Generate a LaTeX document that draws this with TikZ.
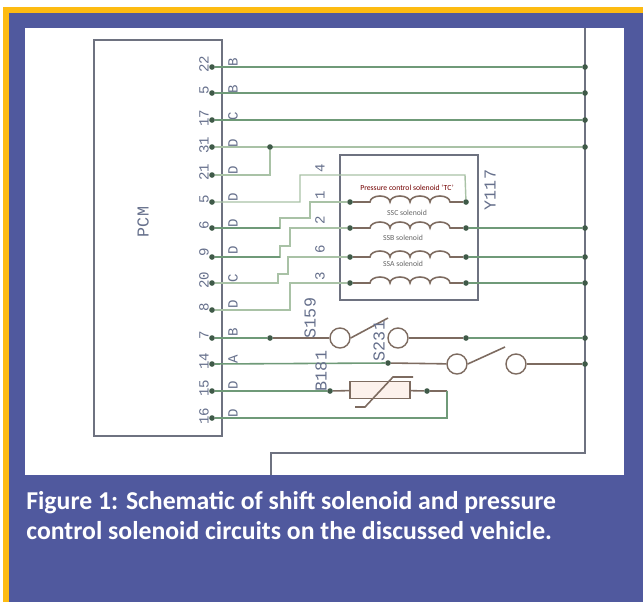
\documentclass[tikz,border=0pt]{standalone}
\usepackage{fontspec}
\setsansfont{Carlito}
\setmonofont{Liberation Mono}
\usepackage{xcolor}
\definecolor{goldbar}{HTML}{FDBB12}
\definecolor{panelblue}{HTML}{50599E}
\definecolor{wiregreen}{HTML}{6F9A78}
\definecolor{wirepale}{HTML}{A9C2A6}
\definecolor{wirebrown}{HTML}{7D6B60}
\definecolor{boxgrey}{HTML}{6E7280}
\definecolor{labelgrey}{HTML}{66708C}
\definecolor{dotgrey}{HTML}{3F5A48}
\definecolor{thermpink}{HTML}{FCF1EC}

\begin{document}
\begin{tikzpicture}[
        x=0.02cm, y=-0.02cm,
        greenwire/.style={wiregreen, line width=0.9pt},
        palewire/.style={wirepale, line width=0.8pt},
        brownwire/.style={wirebrown, line width=0.9pt},
        greybox/.style={draw=boxgrey, line width=0.9pt},
        junction/.style={circle, fill=dotgrey, inner sep=0pt, minimum size=3.2pt},
        contact/.style={circle, draw=wirebrown, fill=white, line width=0.8pt, inner sep=0pt, minimum size=11.4pt},
        pinlabel/.style={rotate=90, text=labelgrey, font=\ttfamily\fontsize{8}{9}\selectfont, inner sep=0pt},
        partlabel/.style={pinlabel, font=\ttfamily\fontsize{9.5}{10}\selectfont},
        coillabel/.style={font=\sffamily\fontsize{4.4}{5}\selectfont, text=black!60, inner sep=0pt},
        caption/.style={font=\sffamily\bfseries\fontsize{14.65}{17.1}\selectfont, text=white, align=left, anchor=north west, inner sep=0pt},
        ]
        % panel
        \useasboundingbox (0,0) rectangle (643,602);
        \fill[white] (0,0) rectangle (643,602);
        \fill[goldbar] (3,7) rectangle (643,602);
        \fill[panelblue] (9,13) rectangle (643,602);
        \fill[white] (25,28) rectangle (624,475);

        % PCM and solenoid pack
        \node (pcm) at (158,238) [greybox, rectangle, minimum width=128*0.02cm, minimum height=396*0.02cm] {};
        \node (pcmname) at (143,222) [partlabel] {PCM};
        \node (pack) at (409,227.5) [greybox, rectangle, minimum width=138*0.02cm, minimum height=145*0.02cm] {};
        \node (packname) at (490,190) [partlabel] {Y117};

        % pin dots
        \node (p22) at (212,67) [junction] {};
        \node (p5a) at (212,93) [junction] {};
        \node (p17) at (212,120) [junction] {};
        \node (p31) at (212,147) [junction] {};
        \node (p21) at (212,175) [junction] {};
        \node (p5b) at (212,202) [junction] {};
        \node (p6) at (212,228) [junction] {};
        \node (p9) at (212,257) [junction] {};
        \node (p20) at (212,283) [junction] {};
        \node (p8) at (212,310) [junction] {};
        \node (p7) at (212,338) [junction] {};
        \node (p14) at (212,364) [junction] {};
        \node (p15) at (212,391) [junction] {};
        \node (p16) at (212,418) [junction] {};

        % pin numbers
        \node (n22) at (204,64) [pinlabel] {22};
        \node (n5a) at (204,90) [pinlabel] {5};
        \node (n17) at (204,118) [pinlabel] {17};
        \node (n31) at (204,145) [pinlabel] {31};
        \node (n21) at (204,172) [pinlabel] {21};
        \node (n5b) at (204,199) [pinlabel] {5};
        \node (n6) at (204,225) [pinlabel] {6};
        \node (n9) at (204,252) [pinlabel] {9};
        \node (n20) at (204,280) [pinlabel] {20};
        \node (n8) at (204,307) [pinlabel] {8};
        \node (n7) at (204,335) [pinlabel] {7};
        \node (n14) at (204,361) [pinlabel] {14};
        \node (n15) at (204,388) [pinlabel] {15};
        \node (n16) at (204,416) [pinlabel] {16};

        % wire letters
        \node (l22) at (233,62) [pinlabel] {B};
        \node (l5a) at (233,89) [pinlabel] {B};
        \node (l17) at (233,116) [pinlabel] {C};
        \node (l31) at (233,143) [pinlabel] {D};
        \node (l21) at (233,170) [pinlabel] {D};
        \node (l5b) at (233,197) [pinlabel] {D};
        \node (l6) at (233,223) [pinlabel] {D};
        \node (l9) at (233,250) [pinlabel] {D};
        \node (l20) at (233,278) [pinlabel] {C};
        \node (l8) at (233,304) [pinlabel] {D};
        \node (l7) at (233,332) [pinlabel] {B};
        \node (l14) at (233,359) [pinlabel] {A};
        \node (l15) at (233,385) [pinlabel] {D};
        \node (l16) at (233,413) [pinlabel] {D};

        % right rail
        \coordinate (railtop) at (585,28);
        \coordinate (railfoot) at (585,453);
        \coordinate (stubfoot) at (271,453);
        \coordinate (stubend) at (271,475);
        \draw[greybox] (railtop) -- (railfoot) -- (stubfoot) -- (stubend);

        \node (r22) at (585,67) [junction] {};
        \node (r5a) at (585,93) [junction] {};
        \node (r17) at (585,120) [junction] {};
        \node (r31) at (585,147) [junction] {};
        \node (r6) at (585,228) [junction] {};
        \node (r9) at (585,257) [junction] {};
        \node (r20) at (585,283) [junction] {};
        \node (r7) at (585,338) [junction] {};
        \node (r14) at (585,364) [junction] {};

        % straight runs
        \draw[greenwire] (p22) -- (r22);
        \draw[greenwire] (p5a) -- (r5a);
        \draw[greenwire] (p17) -- (r17);
        \draw[palewire] (p31) -- (r31);

        \node (tee) at (270,147) [junction] {};
        \draw[palewire] (tee) -- (270,175) -- (p21);

        % solenoid terminals
        \node (a1) at (350,202) [junction] {};
        \node (a2) at (350,228) [junction] {};
        \node (a3) at (350,257) [junction] {};
        \node (a4) at (350,283) [junction] {};
        \node (b1) at (466,202) [junction] {};
        \node (b2) at (466,228) [junction] {};
        \node (b3) at (466,257) [junction] {};
        \node (b4) at (466,283) [junction] {};

        % stepped runs into the pack
        \draw[palewire] (p5b) -- (300,202) -- (300,175) -- (465,175) -- (b1);
        \draw[palewire] (p6) -- (280,228) -- (280,218) -- (310,218) -- (310,202) -- (a1);
        \draw[greenwire] (p6) -- (280,228);
        \draw[palewire] (p9) -- (280,257) -- (280,246) -- (290,246) -- (290,228) -- (a2);
        \draw[greenwire] (p9) -- (280,257);
        \draw[palewire] (p20) -- (278,283) -- (278,274) -- (288,274) -- (288,257) -- (a3);
        \draw[palewire] (p8) -- (290,310) -- (290,283) -- (a4);

        \node (t4) at (320,168) [pinlabel] {4};
        \node (t1) at (320,195) [pinlabel] {1};
        \node (t2) at (320,220) [pinlabel] {2};
        \node (t6) at (320,249) [pinlabel] {6};
        \node (t3) at (320,276) [pinlabel] {3};

        % coils
        \draw[brownwire] (a1) -- (370,202) arc[start angle=180, end angle=360, x radius=10, y radius=6] arc[start angle=180, end angle=360, x radius=10, y radius=6] arc[start angle=180, end angle=360, x radius=10, y radius=6] arc[start angle=180, end angle=360, x radius=10, y radius=6] -- (b1);
        \draw[brownwire] (a2) -- (370,228) arc[start angle=180, end angle=360, x radius=10, y radius=6] arc[start angle=180, end angle=360, x radius=10, y radius=6] arc[start angle=180, end angle=360, x radius=10, y radius=6] arc[start angle=180, end angle=360, x radius=10, y radius=6] -- (b2);
        \draw[brownwire] (a3) -- (370,257) arc[start angle=180, end angle=360, x radius=10, y radius=6] arc[start angle=180, end angle=360, x radius=10, y radius=6] arc[start angle=180, end angle=360, x radius=10, y radius=6] arc[start angle=180, end angle=360, x radius=10, y radius=6] -- (b3);
        \draw[brownwire] (a4) -- (370,283) arc[start angle=180, end angle=360, x radius=10, y radius=6] arc[start angle=180, end angle=360, x radius=10, y radius=6] arc[start angle=180, end angle=360, x radius=10, y radius=6] arc[start angle=180, end angle=360, x radius=10, y radius=6] -- (b4);

        \node (c1) at (407,188) [coillabel, text=red!45!black] {Pressure control solenoid `TC'};
        \node (c2) at (407,213) [coillabel] {SSC solenoid};
        \node (c3) at (403,238) [coillabel] {SSB solenoid};
        \node (c4) at (403,264) [coillabel] {SSA solenoid};

        \draw[greenwire] (b2) -- (r6);
        \draw[greenwire] (b3) -- (r9);
        \draw[greenwire] (b4) -- (r20);

        % S159 branch
        \node (d7) at (270,338) [junction] {};
        \node (sw1a) at (340,338) [contact] {};
        \node (sw1b) at (398,338) [contact] {};
        \coordinate (arm1) at (388,318);
        \node (d7b) at (466,338) [junction] {};
        \draw[greenwire] (p7) -- (d7);
        \draw[brownwire] (d7) -- (sw1a);
        \draw[brownwire] (sw1a.east) -- (arm1);
        \draw[brownwire] (sw1b) -- (d7b);
        \draw[greenwire] (d7b) -- (r7);
        \node (s159) at (310,318) [partlabel] {S159};

        % S231 branch
        \node (d14) at (388,363) [junction] {};
        \node (sw2a) at (457,364) [contact] {};
        \node (sw2b) at (516,364) [contact] {};
        \coordinate (arm2) at (505,347);
        \draw[greenwire] (p14) -- (d14);
        \draw[brownwire] (d14) -- (sw2a);
        \draw[brownwire] (sw2a.east) -- (arm2);
        \draw[brownwire] (sw2b) -- (r14);
        \node (s231) at (379,341) [partlabel] {S231};

        % B181 sensor
        \node (d15) at (330,391) [junction] {};
        \node (b181) at (321,371) [partlabel] {B181};
        \node (therm) at (380,390) [rectangle, draw=wirebrown, fill=thermpink, line width=0.9pt, minimum width=60*0.02cm, minimum height=17*0.02cm] {};
        \node (d15b) at (427,391) [junction] {};
        \coordinate (loopa) at (447,391);
        \coordinate (loopb) at (447,418);
        \draw[greenwire] (p15) -- (d15);
        \draw[brownwire] (d15) -- (therm);
        \draw[brownwire] (therm) -- (d15b) -- (loopa);
        \draw[greenwire] (loopa) -- (loopb) -- (p16);
        \draw[brownwire] (355,407) -- (365,407) -- (393,377) -- (413,377);

        % caption
        \node (figcaption) at (26,491) [caption] {Figure 1: Schematic of shift solenoid and pressure\\control solenoid circuits on the discussed vehicle.};
    \end{tikzpicture}
\end{document}
